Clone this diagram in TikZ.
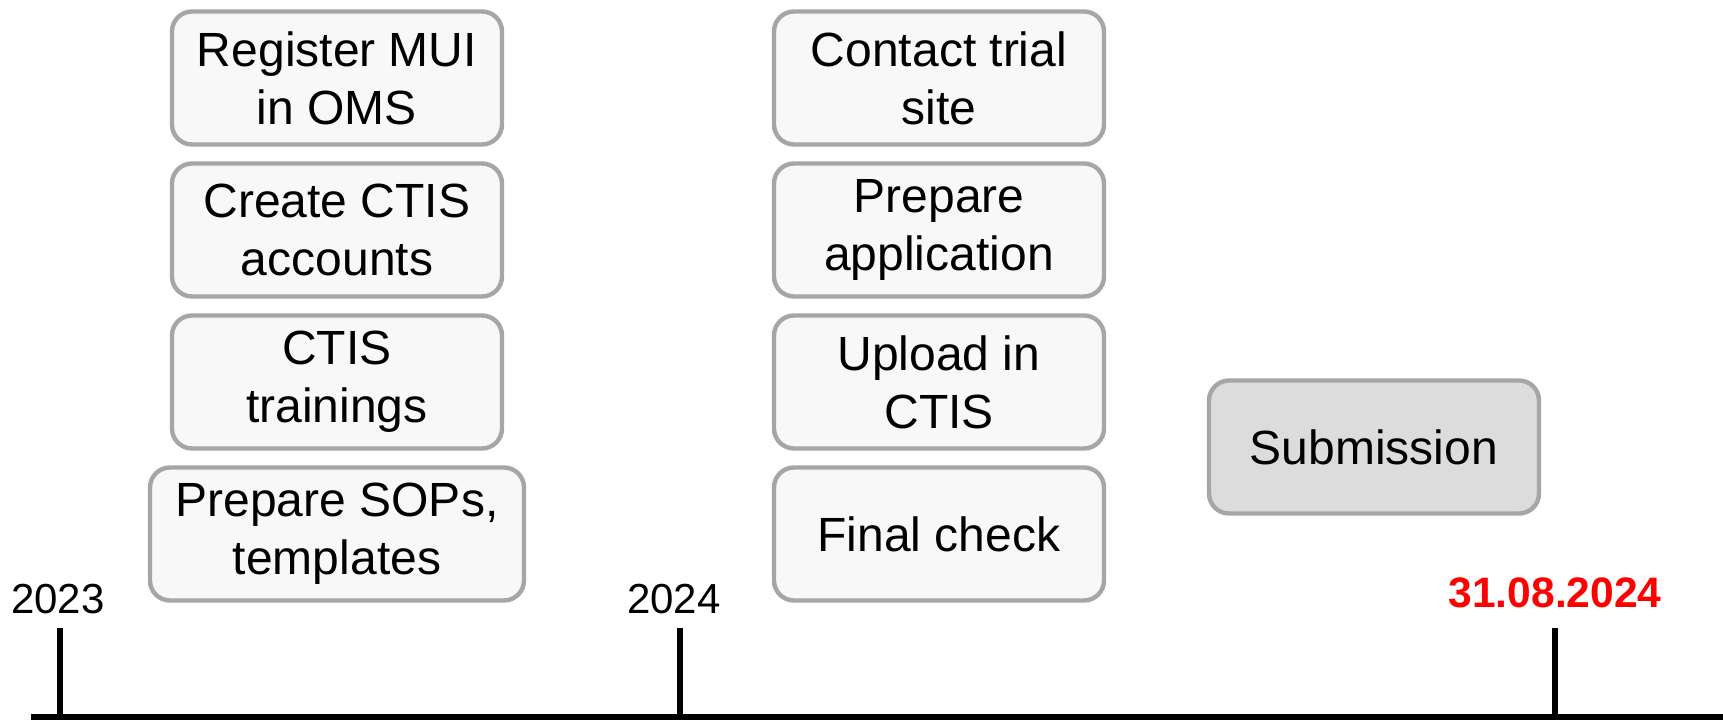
\documentclass[tikz,border=0pt]{standalone}
\usepackage{fontspec}
\setmainfont{Liberation Sans}
\usetikzlibrary{positioning}

\definecolor{BoxLine}{HTML}{A6A6A6}
\definecolor{BoxFill}{HTML}{F8F8F8}
\definecolor{DoneFill}{HTML}{DCDCDC}
\definecolor{DeadlineRed}{HTML}{FF0000}

\tikzset{
    task/.style = {draw=BoxLine, line width=2.2pt, fill=BoxFill, rounded corners=10pt,
                   minimum width=165pt, minimum height=66.5pt, inner sep=2pt,
                   align=center, font=\fontsize{24}{29}\selectfont},
    timeline/.style = {line width=3pt, black},
    yearlabel/.style = {inner sep=0pt, font=\fontsize{21}{25}\selectfont},
}

\begin{document}
\begin{tikzpicture}[x=0.5pt, y=-0.5pt]
    \useasboundingbox (0,0) rectangle (1723,721);

    %Tasks in 2023
    \node[task] (RegisterMUI) at (337,78) {Register MUI\\in OMS};
    \node[task, below = 7.3pt of RegisterMUI] (CreateAccounts) {Create CTIS\\accounts};
    \node[task, below = 7.3pt of CreateAccounts] (Trainings) {CTIS\\trainings};
    \node[task, below = 7.3pt of Trainings, minimum width=187pt] (PrepareSOPs) {Prepare SOPs,\\templates};

    %Tasks in 2024
    \node[task] (ContactSite) at (939,78) {Contact trial\\site};
    \node[task, below = 7.3pt of ContactSite] (PrepareApplication) {Prepare\\application};
    \node[task, below = 7.3pt of PrepareApplication] (UploadCTIS) {Upload in\\CTIS};
    \node[task, below = 7.3pt of UploadCTIS] (FinalCheck) {Final check};

    %Deadline
    \node[task, fill=DoneFill] (Submission) at (1374,447) {Submission};

    %-------------------------------------------
    %Timeline
    \coordinate (LineStart) at (31,717);
    \coordinate (LineEnd) at (1723,717);

    \coordinate (Tick2023) at (60,717);
    \coordinate (Tick2023Top) at (60,628);
    \coordinate (Tick2024) at (680,717);
    \coordinate (Tick2024Top) at (680,628);
    \coordinate (TickDeadline) at (1555,717);
    \coordinate (TickDeadlineTop) at (1555,628);

    \draw[timeline] (LineStart) -- (LineEnd);
    \draw[timeline] (Tick2023) -- (Tick2023Top);
    \draw[timeline] (Tick2024) -- (Tick2024Top);
    \draw[timeline] (TickDeadline) -- (TickDeadlineTop);

    %-------------------------------------------
    %Labels
    \node[yearlabel, above = 7pt of Tick2023Top, xshift=-1pt] (Label2023) {2023};
    \node[yearlabel, above = 7pt of Tick2024Top, xshift=-3pt] (Label2024) {2024};
    \node[yearlabel, above = 10pt of TickDeadlineTop, text=DeadlineRed, font=\fontsize{21.3}{25}\selectfont\bfseries] (LabelDeadline) {31.08.2024};

\end{tikzpicture}
\end{document}
